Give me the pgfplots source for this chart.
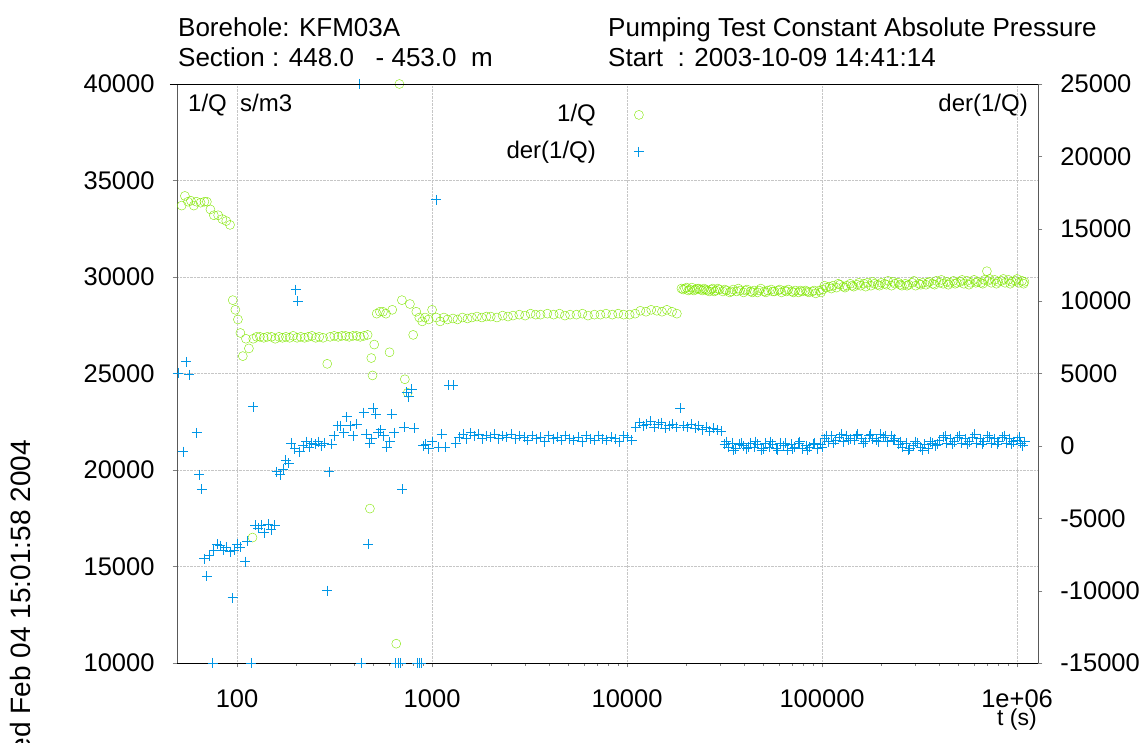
\documentclass[border=0pt]{standalone}
\usepackage{pgfplots}
\pgfplotsset{compat=1.18}
\usepackage{fontspec}
\setmainfont{Liberation Sans}
\definecolor{qgreen}{RGB}{128,230,0}
\definecolor{qblue}{RGB}{0,150,230}
\begin{document}
\fontsize{24}{28}\selectfont
\begin{tikzpicture}[x=1pt,y=1pt]
\useasboundingbox (-177,-80) rectangle (969,663);
\pgfplotsset{every axis/.style={scale only axis, width=861pt, height=579pt,
  xmode=log, xmin=49.2, xmax=1.28e6, tick align=outside,
  /pgf/number format/assume math mode=true, scaled ticks=false,
  tick label style={font=\fontsize{25.5}{30}\selectfont},
  clip=false}}
\begin{axis}[at={(0,0)}, anchor=south west,
  ymin=10000, ymax=40000, ytick={10000,15000,...,40000},
  yticklabel style={/pgf/number format/fixed,/pgf/number format/1000 sep={}, xshift=-10pt},
  xtick={100,1000,10000,100000,1000000},
  xticklabels={100,1000,10000,100000,1e+06},
  xticklabel style={yshift=-14pt},
  grid=major, grid style={densely dotted, gray!45},
  axis y line*=left, axis x line*=bottom,
  y axis line style={gray!70!black},
  legend style={draw=none, fill=none, at={(0.546,0.972)}, anchor=north east, font=\fontsize{24}{28}\selectfont, legend cell align=right, row sep=12pt},
  legend plot pos=right,
  ]
\addplot[only marks, mark=o, mark size=4.5pt, qgreen] coordinates {
(52,33700)(54,34200)(56,33900)(58,33950)(60,33700)(62,33900)(65,33850)(68,33900)(70,33900)(73,33500)(76,33200)(80,33200)(84,33000)(88,32900)(92,32700)
(95,28800)(98,28300)(101,27800)(104,27100)(107,25900)(111,26800)(115,26300)(120,16500)(121,26800)(126,26900)(131,26900)(137,26850)(143,26900)(150,26900)(157,26800)(164,26900)(171,26850)(178,26900)(186,26850)(194,26950)(203,26850)(212,26900)(222,26850)(232,26900)(242,26950)(253,26850)(264,26900)(276,26850)(290,25500)(300,26900)(315,26950)(330,26900)(345,26950)(360,26950)(376,26900)(393,26950)(410,26950)(428,26900)(447,26950)(467,27000)
(480,18000)(488,25800)(495,24900)(505,26500)(520,28100)(540,28200)(560,28200)(580,28100)(605,26100)(625,28300)(655,11000)(680,40000)(700,28800)(725,24700)(750,24000)(770,28600)(800,27000)(830,28200)(860,27900)(890,27700)(920,27900)(960,27800)(1000,28300)(1050,27900)(1100,27700)(1150,27900)(1200,27800)(1280,27850)(1350,27800)(1430,27900)(1520,27850)(1600,27900)(1700,27950)(1800,27900)(1900,27950)(2000,27950)(2150,27900)(2300,28000)(2450,27950)(2600,28000)(2800,28050)(3000,28000)(3200,28100)(3400,28050)(3600,28050)(3900,28100)(4200,28050)(4500,28100)(4800,28000)(5100,28050)(5500,28050)(5900,28100)(6300,28000)(6800,28050)(7300,28050)(7800,28100)(8400,28050)(9000,28100)(9600,28050)(10300,28050)
(11000,28100)(11700,28250)(12500,28200)(13300,28300)(14200,28250)(15100,28200)(16000,28300)(17000,28200)(18000,28100)
(19000,29400)(19800,29400)(20600,29300)(21500,29450)(22400,29350)(23300,29400)(24300,29300)(25300,29350)(26400,29250)(27500,29400)(28600,29300)(29800,29350)
(19400,29350)(20200,29450)(21000,29350)(22000,29300)(22800,29400)(23800,29350)(24800,29400)(25800,29300)(27000,29350)(28000,29250)(29200,29400)
(31000,29250)(32300,29300)(33600,29200)(35000,29350)(36500,29250)(38000,29300)(39600,29200)(41200,29350)(43000,29250)(44800,29300)(46600,29200)(48500,29400)(50500,29250)(52600,29300)(54800,29350)(57000,29250)(59400,29300)(61900,29200)(64400,29300)(67100,29350)(69900,29250)(72800,29300)(75800,29200)(78900,29250)(82200,29300)(85600,29200)(89100,29250)(92800,29150)(96700,29300)
(31700,29350)(34300,29250)(37200,29400)(40400,29300)(43900,29200)(47500,29300)(51500,29200)(55900,29250)(60600,29350)(65700,29250)(71300,29200)(77300,29300)(83900,29250)(91000,29300)(98700,29200)
(100700,29350)(104900,29450)(109200,29500)(113800,29550)(118500,29450)(123400,29600)(128500,29500)(133800,29550)(139400,29650)(145200,29500)(151200,29600)(157500,29550)(164000,29650)(170800,29700)(177900,29550)(185300,29650)(193000,29600)(201000,29700)(209300,29650)(218000,29800)(227000,29550)(236400,29650)(246200,29700)(256500,29550)(267100,29650)(278200,29600)(289700,29700)(301700,29550)(314200,29650)(327300,29700)(340800,29600)(355000,29750)(369700,29650)(385000,29800)(401000,29700)(417600,29650)(434900,29750)(452900,29700)(471700,29800)(491300,29700)(511600,29750)(532800,29650)(554900,29800)(577900,29700)(601900,29850)(626800,29750)(652800,29700)(679900,29850)(700000,30300)(708100,29800)(737400,29700)(768000,29850)(799800,29750)(833000,29800)(867500,29700)(903500,29850)(941000,29750)(980000,29800)(1020000,29700)(1060000,29800)(1090000,29750)
(102800,29550)(111500,29400)(121000,29650)(131100,29450)(142300,29550)(154300,29700)(167400,29500)(181600,29750)(197000,29550)(213600,29600)(231700,29750)(251300,29600)(272600,29550)(295700,29800)(320700,29600)(347900,29700)(377300,29600)(409300,29850)(443900,29600)(481500,29650)(522300,29850)(566400,29600)(614400,29700)(666300,29650)(722700,29900)(783900,29650)(850200,29900)(922200,29650)(1000000,29900)(1080000,29650)
};
\addlegendentry{1/Q\kern36pt}
\addlegendimage{only marks, mark=+, mark size=5pt, qblue, line width=0.9pt}
\addlegendentry{der(1/Q)\kern36pt}
\end{axis}
\begin{axis}[at={(0,0)}, anchor=south west,
  ymin=-15000, ymax=25000, ytick={-15000,-10000,...,25000},
  yticklabel style={/pgf/number format/fixed,/pgf/number format/1000 sep={}, xshift=10pt},
  axis y line*=right, axis x line=none,
  y axis line style={gray!70!black},
  ]
\addplot[only marks, mark=+, mark size=5pt, qblue, line width=0.9pt] coordinates {
(50,5000)(53,-400)(55,5800)(57,4900)(62,900)(64,-2000)(66,-3000)(68,-7800)(70,-9000)(72,-7600)(75,-15000)(76,-7200)(79,-6800)(82,-6900)(85,-7200)(88,-7000)(92,-7300)(95,-10500)(97,-7200)(100,-6800)(104,-7000)(110,-8000)(113,-6600)(118,-15000)(121,2700)(124,-5500)(128,-5700)(133,-5500)(138,-6000)(144,-5400)(150,-5800)(156,-5500)(160,-1800)(166,-2000)(172,-1600)(178,-1000)(184,-1200)(190,200)(198,-200)(200,10800)(205,10000)(210,-400)(218,0)(226,300)(234,-100)(242,200)(251,100)(260,300)(270,0)(280,200)(290,-10000)(296,-1800)(305,100)(315,700)(328,1400)(340,1400)(352,900)(365,2000)(380,1400)(395,700)(410,1500)(425,25000)(432,-15000)(445,2300)(460,800)(470,-6800)(478,200)(490,500)(500,2600)(515,2200)(530,900)(545,1100)(565,700)(585,-100)(605,300)(620,2200)(640,900)(650,-15000)(670,-15000)(690,-15000)(705,-3000)(720,1300)(740,3700)(760,3400)(785,3900)(810,1200)(840,-15000)(860,-15000)(880,-15000)(900,0)(930,100)(960,-200)(1000,300)(1050,17000)(1080,-100)(1120,800)(1170,-100)(1220,4200)(1280,4200)(1320,200)(1380,600)(1440,800)(1500,500)(1580,900)(1650,700)(1730,800)(1810,500)(1900,700)(2000,600)(2100,800)(2200,500)(2300,700)(2420,600)(2550,800)(2680,500)(2820,700)(2960,600)(3100,400)(3260,700)(3430,500)(3600,600)(3780,300)(3970,700)(4170,500)(4380,600)(4600,400)(4830,700)(5070,500)(5330,400)(5600,600)(5880,300)(6170,700)(6480,500)(6810,400)(7150,700)(7510,500)(7880,400)(8280,600)(8700,500)(9130,300)(9590,700)(10070,600)(10570,400)
(11100,1300)(11600,1600)(12100,1400)(12600,1500)(13200,1700)(13800,1300)(14400,1500)(15000,1600)(15700,1200)(16400,1400)(17100,1500)(17900,1300)(18700,2600)(19500,1400)(20400,1300)(21300,1500)(22300,1200)(23300,1400)(24300,1100)(25400,1300)(26500,1000)(27700,1200)(29000,1100)(30300,1000)
(31600,100)(33000,-100)(34500,200)(36000,-200)(37600,100)(39300,0)(41100,-200)(42900,200)(44800,-100)(46800,100)(48900,-300)(51100,200)(53400,-100)(55800,100)(58300,-200)(60900,200)(63600,0)(66500,-300)(69400,100)(72500,-100)(75800,200)(79200,-200)(82700,0)(86400,-100)(90300,100)(94300,-200)(98500,100)
(32300,300)(35200,-300)(38400,200)(41900,-100)(45700,300)(49900,-200)(54400,300)(59300,-300)(64700,200)(70600,-200)(77000,300)(84000,-300)(91600,200)(99900,-100)
(102900,500)(107500,300)(112300,700)(117300,400)(122600,600)(128100,300)(133800,700)(139800,500)(146000,400)(152600,800)(159400,500)(166500,300)(174000,700)(181700,500)(189900,400)(198400,800)(207200,600)(216500,300)(226200,700)(236300,500)(246900,100)(257900,-100)(269400,200)(281500,-200)(294100,0)(307200,200)(321000,-100)(335300,100)(350300,-200)(366000,200)(382300,0)(399400,400)(417300,600)(435900,200)(455400,500)(475800,300)(497000,600)(519300,200)(542500,500)(566700,300)(592100,600)(618500,200)(646200,500)(675100,300)(705300,700)(736800,200)(769700,500)(804100,300)(840100,600)(877600,200)(916900,500)(957800,300)(1000600,400)(1045300,200)(1092000,300)
(105200,700)(114800,200)(125300,800)(136800,400)(149300,700)(163000,200)(177900,800)(194200,300)(212000,700)(231400,400)(252600,300)(275700,-300)(300900,300)(328500,-300)(358600,300)(391400,100)(427200,700)(466300,100)(509000,700)(555600,100)(606500,800)(662100,100)(722700,600)(788900,100)(861200,700)(940100,100)(1026200,600)(1070000,0)
};
\end{axis}
\draw (-7,579) -- (861,579);
\node[anchor=north west, inner sep=0] at (11,569) {1/Q\ \ s/m3};
\node[anchor=north east, inner sep=0] at (851,569) {der(1/Q)};
\node[font=\fontsize{23}{27}\selectfont] at (840,-57) {t (s)};
\node[anchor=base west, inner sep=0, font=\fontsize{26}{30}\selectfont] at (1,626) {Borehole: KFM03A};
\node[anchor=base west, inner sep=0, font=\fontsize{26}{30}\selectfont] at (1,596) {Section : 448.0\ \ \ - 453.0\ \ m};
\node[anchor=base west, inner sep=0, font=\fontsize{26}{30}\selectfont] at (431,626) {Pumping Test Constant Absolute Pressure};
\node[anchor=base west, inner sep=0, font=\fontsize{26}{30}\selectfont] at (431,596) {Start\ \ : 2003-10-09 14:41:14};
\node[rotate=90, anchor=east, inner sep=0, font=\fontsize{28}{32}\selectfont] at (-157,223) {Wed Feb 04 15:01:58 2004};
\end{tikzpicture}
\end{document}
